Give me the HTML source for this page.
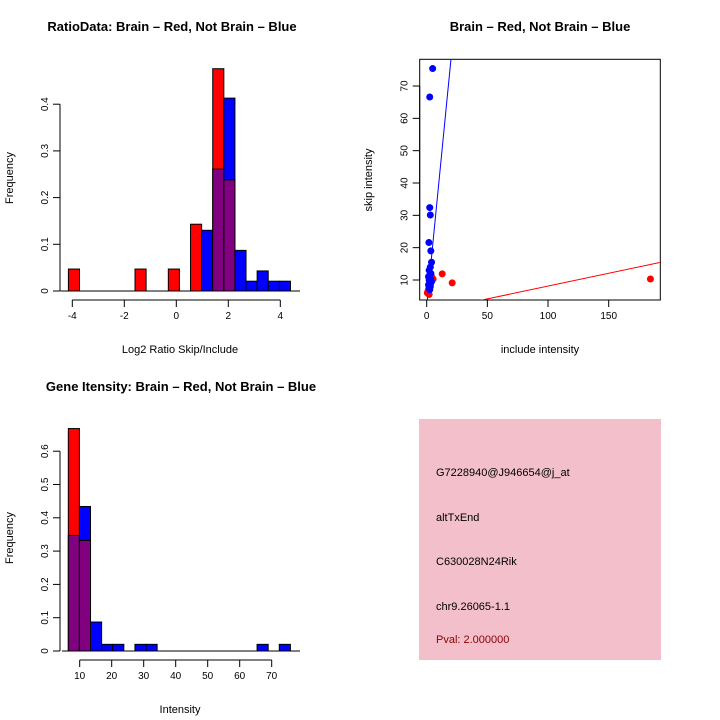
<!DOCTYPE html>
<html><head><meta charset="utf-8"><style>
body{margin:0;background:#fff;}
svg{display:block;font-family:"Liberation Sans",sans-serif;}
</style></head><body>
<svg id="c" width="720" height="720" xmlns="http://www.w3.org/2000/svg">
<rect x="0" y="0" width="720" height="720" fill="#fff"/>
</svg>
<script>
// ---- Panel 1: ratio histogram
const ratioStart = -4.15;
const ratioWidth = 0.427;
const ratioRed = [0.047,0,0,0,0,0,0.047,0,0,0.047,0,0.143,0,0.476,0.238,0,0,0,0,0];
const ratioBlue = [0,0,0,0,0,0,0,0,0,0,0,0,0.130,0.261,0.413,0.087,0.021,0.043,0.021,0.021];
const ratioXTicks = [-4,-2,0,2,4];
const ratioYTicks = [0,0.1,0.2,0.3,0.4];
// ---- Panel 3: intensity histogram
const intStart = 6.44;
const intWidth = 3.47;
const intRed = [0.668,0.332,0,0,0,0,0,0,0,0,0,0,0,0,0,0,0,0,0,0];
const intBlue = [0.347,0.434,0.087,0.02,0.02,0,0.02,0.02,0,0,0,0,0,0,0,0,0,0.02,0,0.02];
const intXTicks = [10,20,30,40,50,60,70];
const intYTicks = [0,0.1,0.2,0.3,0.4,0.5,0.6];
// ---- Panel 2: scatter
const redX = [184.4,21,12.8,5.3,2,1.5,3,1,2.5,4,0.5];
const redY = [10.3,9.1,11.9,10.3,5.5,7,8.5,6.5,9.5,11,6];
const blueX = [4.9,2.5,2.5,3,1.8,3.4,4,3,2,3.5,2.5,1.5,3,2,4,2.5,1.5,3,2,2.5];
const blueY = [75.4,66.6,32.4,30.1,21.6,19,15.5,14,13,12,11.5,11,10.5,10,9.5,9,8.5,8,7.5,7];
const scXTicks = [0,50,100,150];
const scYTicks = [10,20,30,40,50,60,70];
const blueFit = [1.9,3.82];
const redFit = [0.2,0.0792];

const svg = document.getElementById('c');
const NS = 'http://www.w3.org/2000/svg';
function mk(tag, attrs, parent){const e=document.createElementNS(NS,tag);for(const k in attrs)e.setAttribute(k,attrs[k]);(parent||svg).appendChild(e);return e;}
function txt(s,x,y,size,opts){const e=mk('text',Object.assign({x:x,y:y,'font-size':size,'text-anchor':'middle',fill:'#000'},opts||{}));e.textContent=s;return e;}

function hist(prefix, start, w, red, blue, sx, sy){
  for(let i=0;i<red.length;i++){
    const x0=sx(start+i*w), x1=sx(start+(i+1)*w);
    const r=red[i], b=blue[i];
    if(r<=0&&b<=0) continue;
    const hi=Math.max(r,b), lo=Math.min(r,b);
    const r1=mk('rect',{x:x0,y:sy(hi),width:x1-x0,height:sy(0)-sy(hi),fill:r>=b?'#ff0000':'#0000ff',stroke:'#000','stroke-width':1});
    
    
    if(lo>0){
      const r2=mk('rect',{x:x0,y:sy(lo),width:x1-x0,height:sy(0)-sy(lo),fill:'#800080',stroke:'#000','stroke-width':1});
      
      
    }
  }
}
function yaxis(prefix,x,ticks,sy,fmt){
  const g=mk('g',{});
  
  
  mk('line',{x1:x,x2:x,y1:sy(ticks[0]),y2:sy(ticks[ticks.length-1]),stroke:'#000'},g);
  ticks.forEach(t=>{mk('line',{x1:x-7,x2:x,y1:sy(t),y2:sy(t),stroke:'#000'},g);
    const e=txt(fmt(t),0,0,10,{transform:'translate('+(x-12)+','+sy(t)+') rotate(-90)'});g.appendChild(e);});
}
function xaxis(prefix,y,ticks,sx){
  const g=mk('g',{});
  
  
  mk('line',{x1:sx(ticks[0]),x2:sx(ticks[ticks.length-1]),y1:y,y2:y,stroke:'#000'},g);
  ticks.forEach(t=>{mk('line',{x1:sx(t),x2:sx(t),y1:y,y2:y+7,stroke:'#000'},g);
    g.appendChild(txt(String(t),sx(t),y+19,10));});
}

// Panel 1
(function(){
  const sx=v=>176.3+v*26, sy=v=>291-v*467;
  hist('ratio',ratioStart,ratioWidth,ratioRed,ratioBlue,sx,sy);
  mk('line',{x1:sx(ratioStart)-8,x2:300,y1:291,y2:291,stroke:'#000'});
  yaxis('ratio',60,ratioYTicks,sy,t=>String(t));
  xaxis('ratio',300,ratioXTicks,sx);
  const t=txt('RatioData: Brain – Red, Not Brain – Blue',172,31,13,{'font-weight':'bold'});
  
  const xl=txt('Log2 Ratio Skip/Include',180,353,11);
  
  const yl=txt('Frequency',0,0,11,{transform:'translate(13,178) rotate(-90)'});
  
})();

// Panel 3
(function(){
  const sx=v=>79.7+(v-10)*3.2, sy=v=>651-v*333;
  hist('intensity',intStart,intWidth,intRed,intBlue,sx,sy);
  mk('line',{x1:62,x2:300,y1:651,y2:651,stroke:'#000'});
  yaxis('intensity',60,intYTicks,sy,t=>String(t));
  xaxis('intensity',660,intXTicks,sx);
  const t=txt('Gene Itensity: Brain – Red, Not Brain – Blue',181,391,13,{'font-weight':'bold'});
  
  const xl=txt('Intensity',180,713,11);
  
  const yl=txt('Frequency',0,0,11,{transform:'translate(13,538) rotate(-90)'});
  
})();

// Panel 2
(function(){
  const L=419.7,R=660.3,T=59.3,B=300;
  const sx=v=>426.7+v*1.2133, sy=v=>280-(v-10)*3.233;
  const clip=mk('clipPath',{id:'scclip'}); mk('rect',{x:L,y:T,width:R-L,height:B-T},clip);
  const box=mk('rect',{x:L,y:T,width:R-L,height:B-T,fill:'none',stroke:'#000'});
  
  const xmin=-6,xmax=192;
  const bl=mk('line',{x1:sx(xmin),y1:sy(blueFit[0]+blueFit[1]*xmin),x2:sx(xmax),y2:sy(blueFit[0]+blueFit[1]*xmax),stroke:'#0000ff','clip-path':'url(#scclip)'});
  
  const rl=mk('line',{x1:sx(xmin),y1:sy(redFit[0]+redFit[1]*xmin),x2:sx(xmax),y2:sy(redFit[0]+redFit[1]*xmax),stroke:'#ff0000','clip-path':'url(#scclip)'});
  
  redX.forEach((x,i)=>{const c=mk('circle',{cx:sx(x),cy:sy(redY[i]),r:3.5,fill:'#ff0000'});
    });
  blueX.forEach((x,i)=>{const c=mk('circle',{cx:sx(x),cy:sy(blueY[i]),r:3.5,fill:'#0000ff'});
    });
  const gy=mk('g',{});
  mk('line',{x1:L,x2:L,y1:sy(scYTicks[0]),y2:sy(scYTicks[scYTicks.length-1]),stroke:'#000'},gy);
  scYTicks.forEach(t=>{mk('line',{x1:L-7,x2:L,y1:sy(t),y2:sy(t),stroke:'#000'},gy);
    gy.appendChild(txt(String(t),0,0,10,{transform:'translate('+(L-12)+','+sy(t)+') rotate(-90)'}));});
  const gx=mk('g',{});
  scXTicks.forEach(t=>{mk('line',{x1:sx(t),x2:sx(t),y1:B,y2:B+7,stroke:'#000'},gx);
    gx.appendChild(txt(String(t),sx(t),B+19,10));});
  const t=txt('Brain – Red, Not Brain – Blue',540,31,13,{'font-weight':'bold'});
  
  const xl=txt('include intensity',540,353,11);
  
  const yl=txt('skip intensity',0,0,11,{transform:'translate(372,180) rotate(-90)'});
  
})();

// Info panel
(function(){
  const g=mk('g',{});
  mk('rect',{x:419,y:419,width:242,height:241,fill:'#f2bfcb'},g);
  const lines=[['G7228940@J946654@j_at',476,'#000'],['altTxEnd',521,'#000'],['C630028N24Rik',565,'#000'],['chr9.26065-1.1',610,'#000'],['Pval: 2.000000',643,'#8b0000']];
  lines.forEach(l=>{const e=txt(l[0],436,l[1],11,{'text-anchor':'start',fill:l[2]});g.appendChild(e);});
})();
</script>
</body></html>
